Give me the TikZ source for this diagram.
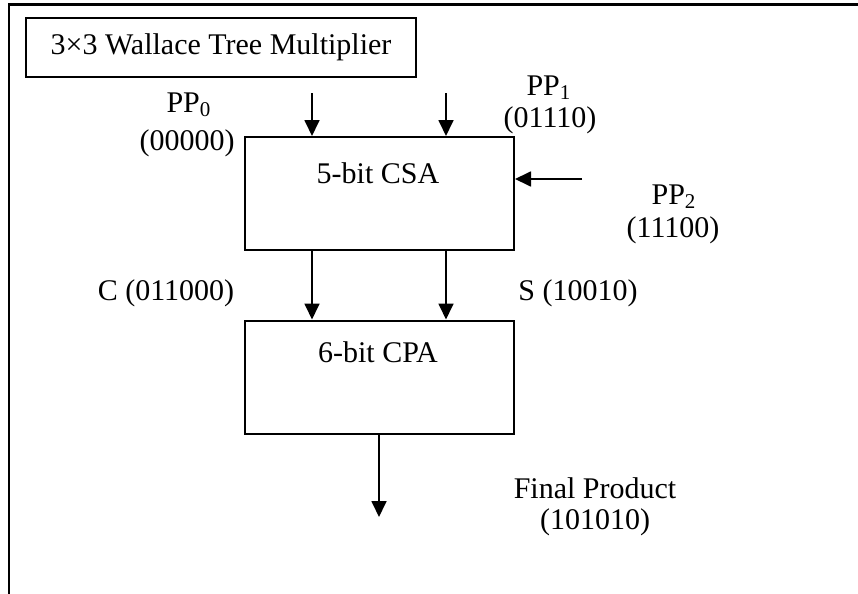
\documentclass[tikz,border=0pt]{standalone}
\usepackage{fontspec}
\setmainfont{Liberation Serif}
\usetikzlibrary{arrows.meta}

\begin{document}
\begin{tikzpicture}[x=0.5pt,y=-0.5pt,
  every node/.style={font=\fontsize{15}{18}\selectfont, inner sep=0pt},
  block/.style={draw, line width=1pt, minimum width=134.5pt, minimum height=56.5pt},
  titlebox/.style={draw, line width=1pt, minimum width=195pt, minimum height=29.5pt},
  txt/.style={align=center},
  arr/.style={line width=0.9pt, -{Triangle[width=7.5pt,length=8pt]}}
]
\useasboundingbox (0,0) rectangle (858,594);

% outer frame (left and top edges)
\draw[line width=1.2pt] (9,594) -- (9,4.5) -- (858,4.5);

% title
\node[titlebox] (title) at (221,47.5) {3×3 Wallace Tree Multiplier};

% adder blocks
\node[block] (csa) at (379.5,193.5) {};
\node[txt] (csatxt) at (378,173) {5-bit CSA};
\node[block] (cpa) at (379.5,377) {};
\node[txt] (cpatxt) at (378,352) {6-bit CPA};

% partial product inputs
\node[txt] (pp0) at (189,105) {PP\textsubscript{0}};
\node[txt] (pp0v) at (187,143) {(00000)};
\node[txt] (pp1) at (549,88) {PP\textsubscript{1}};
\node[txt] (pp1v) at (550,120) {(01110)};
\node[txt] (pp2) at (674,197) {PP\textsubscript{2}};
\node[txt] (pp2v) at (673,230) {(11100)};

\coordinate (in0) at (312,93);
\coordinate (in1) at (446,93);
\coordinate (in2) at (582,179);
\draw[arr] (in0) -- (in0 |- csa.north);
\draw[arr] (in1) -- (in1 |- csa.north);
\draw[arr] (in2) -- (in2 -| csa.east);

% carry and sum vectors
\node[txt] (carry) at (166,293) {C (011000)};
\node[txt] (sum) at (578,293) {S (10010)};
\draw[arr] (in0 |- csa.south) -- (in0 |- cpa.north);
\draw[arr] (in1 |- csa.south) -- (in1 |- cpa.north);

% final product
\coordinate (outp) at (379,517);
\draw[arr] (outp |- cpa.south) -- (outp);
\node[txt] (prod) at (595,488) {Final Product};
\node[txt] (prodv) at (595,522) {(101010)};
\end{tikzpicture}
\end{document}
